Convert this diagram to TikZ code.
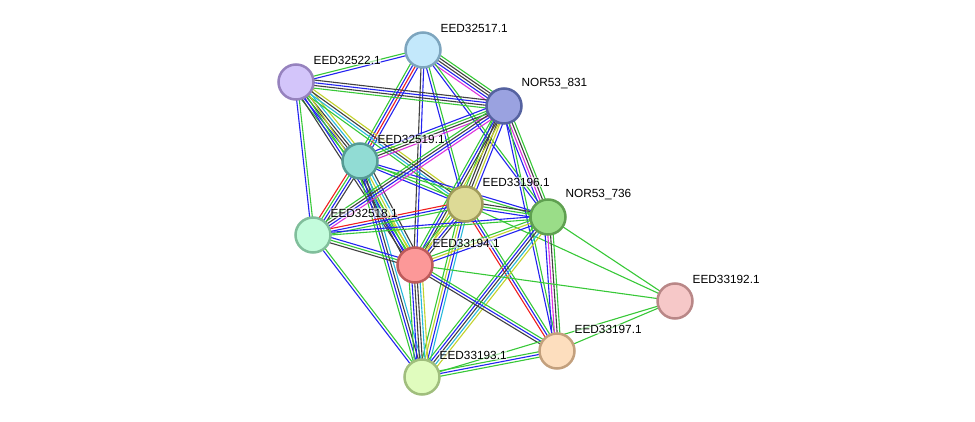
\documentclass[tikz,border=0pt]{standalone}
\usepackage{fontspec}
\setmainfont{Liberation Sans}
\usetikzlibrary{calc,backgrounds}
% evidence colours
\definecolor{nbr}{RGB}{55,200,55}
\definecolor{cooc}{RGB}{35,35,240}
\definecolor{coex}{RGB}{65,65,65}
\definecolor{expt}{RGB}{220,50,220}
\definecolor{fus}{RGB}{240,30,30}
\definecolor{dbase}{RGB}{40,185,220}
\definecolor{txt}{RGB}{195,210,45}

% parallel lines, one per evidence colour
\newcommand\link[3]{%
  \foreach \c [count=\n] in {#3} {\global\let\nlines\n}%
  \foreach \c [count=\i] in {#3} {%
    \pgfmathsetmacro\off{(\i-(\nlines+1)/2)*2.7}%
    \draw[\c,line width=1.1pt] ($(#1)!\off pt!90:(#2)$) -- ($(#2)!\off pt!-90:(#1)$);
  }}

\begin{document}
\begin{tikzpicture}[x=1pt,y=-1pt,
  prot/.style={circle,minimum size=35pt,inner sep=0pt,line width=2.5pt},
  lbl/.style={anchor=west,font=\fontsize{11.8}{14}\selectfont,inner sep=0.5pt,
              fill=white,fill opacity=0.55,text opacity=1}
]
\useasboundingbox (0,0) rectangle (975,422);
% proteins
\node[prot,fill={rgb,255:red,195;green,232;blue,251},draw={rgb,255:red,125;green,165;blue,190}] (e517) at (423,50) {};
\node[prot,fill={rgb,255:red,211;green,197;blue,250},draw={rgb,255:red,150;green,130;blue,190}] (e522) at (296,82) {};
\node[prot,fill={rgb,255:red,154;green,162;blue,224},draw={rgb,255:red,85;green,98;blue,160}]   (n831) at (504,106) {};
\node[prot,fill={rgb,255:red,145;green,220;blue,212},draw={rgb,255:red,85;green,155;blue,148}]  (e519) at (360,161) {};
\node[prot,fill={rgb,255:red,221;green,218;blue,150},draw={rgb,255:red,160;green,155;blue,90}]  (e196) at (465,204) {};
\node[prot,fill={rgb,255:red,154;green,221;blue,136},draw={rgb,255:red,95;green,160;blue,80}]   (n736) at (548,217) {};
\node[prot,fill={rgb,255:red,195;green,252;blue,220},draw={rgb,255:red,128;green,190;blue,155}] (e518) at (313,235) {};
\node[prot,fill={rgb,255:red,252;green,152;blue,152},draw={rgb,255:red,190;green,90;blue,90}]   (e194) at (415,265) {};
\node[prot,fill={rgb,255:red,246;green,200;blue,200},draw={rgb,255:red,185;green,135;blue,135}] (e192) at (675,301) {};
\node[prot,fill={rgb,255:red,253;green,222;blue,190},draw={rgb,255:red,195;green,160;blue,125}] (e197) at (557,351) {};
\node[prot,fill={rgb,255:red,224;green,252;blue,190},draw={rgb,255:red,160;green,190;blue,125}] (e193) at (422,377) {};

% labels
\node[lbl] (l517) at ([shift={(17,-22)}]e517.center) {EED32517.1};
\node[lbl] (l522) at ([shift={(17,-22)}]e522.center) {EED32522.1};
\node[lbl] (l831) at ([shift={(17,-22)}]n831.center) {NOR53\_831};
\node[lbl] (l519) at ([shift={(17,-22)}]e519.center) {EED32519.1};
\node[lbl] (l196) at ([shift={(17,-22)}]e196.center) {EED33196.1};
\node[lbl] (l736) at ([shift={(17,-22)}]n736.center) {NOR53\_736};
\node[lbl] (l518) at ([shift={(17,-22)}]e518.center) {EED32518.1};
\node[lbl] (l194) at ([shift={(17,-22)}]e194.center) {EED33194.1};
\node[lbl] (l192) at ([shift={(17,-22)}]e192.center) {EED33192.1};
\node[lbl] (l197) at ([shift={(17,-22)}]e197.center) {EED33197.1};
\node[lbl] (l193) at ([shift={(17,-22)}]e193.center) {EED33193.1};

% interactions
\begin{scope}[on background layer]
\link{e517}{e522}{nbr,cooc}
\link{e517}{n831}{expt,cooc,coex,coex,nbr}
\link{e517}{e519}{nbr,cooc,fus,cooc}
\link{e517}{e194}{coex,cooc}
\link{e517}{e196}{cooc,nbr}
\link{e517}{n736}{cooc,nbr}
\link{e522}{n831}{nbr,coex,cooc,coex}
\link{e522}{e519}{nbr,cooc,coex,coex,dbase,txt}
\link{e522}{e196}{nbr,dbase,coex,txt}
\link{e522}{e194}{coex,cooc,nbr,txt}
\link{e522}{e518}{cooc,nbr}
\link{e519}{n831}{expt,coex,nbr,cooc}
\link{e519}{e196}{cooc,nbr}
\link{e519}{n736}{nbr,cooc}
\link{e519}{e518}{fus,nbr,cooc,coex}
\link{e519}{e194}{coex,cooc,nbr,txt,dbase,coex}
\link{e519}{e193}{nbr,cooc,coex,dbase}
\link{n831}{e196}{nbr,coex,coex,txt,cooc}
\link{n831}{n736}{cooc,expt,coex,nbr}
\link{n831}{e194}{nbr,cooc,coex,txt}
\link{n831}{e518}{nbr,coex,cooc,expt}
\link{n831}{e197}{cooc,nbr}
\link{e196}{n736}{cooc,nbr,coex}
\link{e196}{e518}{fus,cooc,nbr}
\link{e196}{e194}{nbr,txt,cooc,coex}
\link{e196}{e193}{nbr,txt,cooc,dbase}
\link{e196}{e197}{fus,cooc,nbr}
\link{e196}{e192}{nbr}
\link{n736}{e518}{cooc,nbr}
\link{n736}{e194}{nbr,txt,cooc}
\link{n736}{e193}{nbr,cooc,coex,dbase,txt}
\link{n736}{e197}{cooc,expt,coex,nbr}
\link{n736}{e192}{nbr}
\link{e518}{e194}{coex,nbr,cooc}
\link{e518}{e193}{cooc,nbr}
\link{e194}{e193}{nbr,cooc,coex,coex,dbase,txt}
\link{e194}{e197}{coex,cooc,nbr}
\link{e194}{e192}{nbr}
\link{e193}{e197}{nbr,cooc,nbr}
\link{e193}{e192}{nbr}
\link{e197}{e192}{nbr}
\end{scope}
\end{tikzpicture}
\end{document}
